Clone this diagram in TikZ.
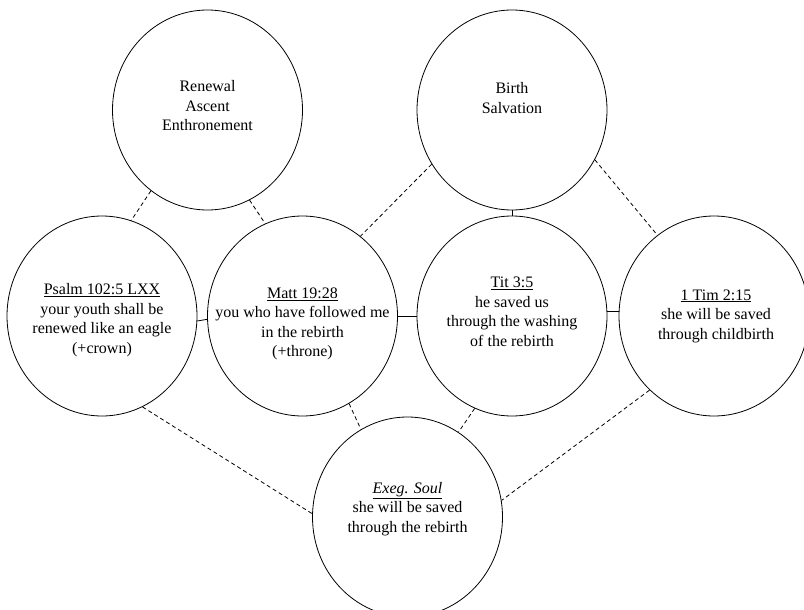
\documentclass[tikz,border=0pt]{standalone}
\usepackage{fontspec}
\setmainfont{Liberation Serif}
\usetikzlibrary{shapes.geometric}

\tikzset{
  bubble/.style={draw, ellipse, line width=0.8pt, inner sep=0pt,
                 minimum width=190pt, minimum height=200pt},
  txt/.style={align=center, inner sep=0pt,
              font=\fontsize{16}{19.5}\selectfont},
  link/.style={line width=0.8pt, dash pattern=on 4pt off 3pt},
  touch/.style={line width=0.8pt},
}

\begin{document}
\begin{tikzpicture}[x=1pt, y=-1pt]
  \useasboundingbox (0,0) rectangle (804,610);
  \clip (0,0) rectangle (804,610);

  % theme circles
  \node[bubble] (ren) at (207.5,110) {};
  \node[bubble] (bir) at (512,110) {};

  % passages
  \node[bubble] (psa) at (102,316) {};
  \node[bubble] (mat) at (302.5,316) {};
  \node[bubble] (tit) at (512,316) {};
  \node[bubble] (tim) at (714,316) {};
  \node[bubble] (exe) at (407.5,517) {};

  % texts
  \node[txt] (renT) at (207.5,106) {Renewal\\Ascent\\Enthronement};
  \node[txt] (birT) at (512,98) {Birth\\Salvation};
  \node[txt] (psaT) at (102,320) {\underline{Psalm 102:5 LXX}\\your youth shall be\\renewed like an eagle\\(+crown)};
  \node[txt] (matT) at (302.5,324) {\underline{Matt 19:28}\\you who have followed me\\in the rebirth\\(+throne)};
  \node[txt] (titT) at (512,312) {\underline{Tit 3:5}\\he saved us\\through the washing\\of the rebirth};
  \node[txt] (timT) at (716,316) {\underline{1 Tim 2:15}\\she will be saved\\through childbirth};
  \node[txt] (exeT) at (407.5,509) {\underline{\textit{Exeg. Soul}}\\she will be saved\\through the rebirth};

  % touching links
  \draw[touch] (psa.357.6) -- (mat.182.4);
  \draw[touch] (mat.east) -- (tit.west);
  \draw[touch] (tit.3) -- (tim.177);
  \draw[touch] (bir.south) -- (tit.north);

  % dashed links
  \draw[link] (ren.235) -- (psa.73);
  \draw[link] (ren.295) -- (mat.112);
  \draw[link] (bir.214) -- (mat.54);
  \draw[link] (bir.329) -- (tim.125);
  \draw[link] (psa.294) -- (exe.178);
  \draw[link] (mat.298) -- (exe.118);
  \draw[link] (tit.248) -- (exe.59);
  \draw[link] (tim.229) -- (exe.10);
\end{tikzpicture}
\end{document}
